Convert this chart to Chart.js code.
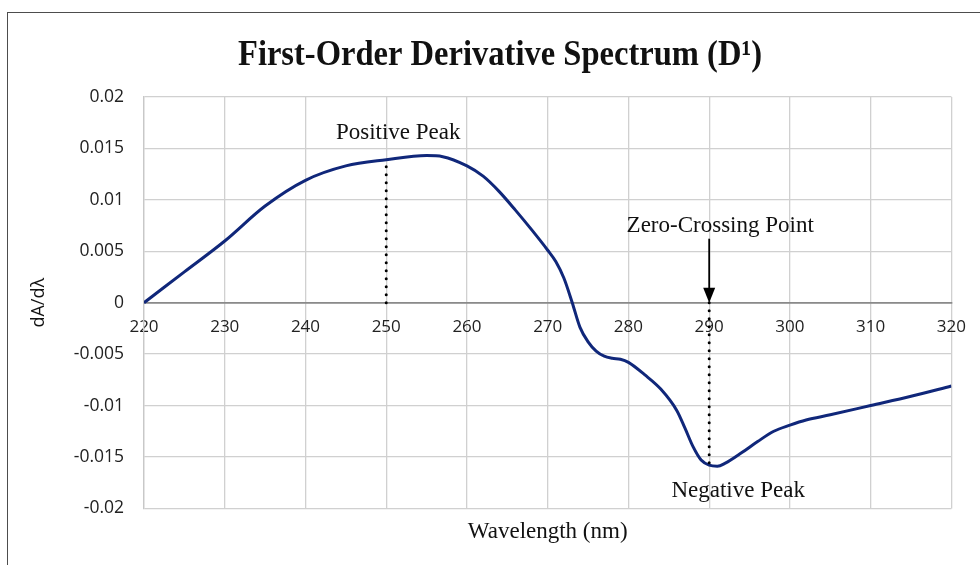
<!DOCTYPE html>
<html lang="en">
<head>
<meta charset="UTF-8">
<title>First-Order Derivative Spectrum</title>
<script src="https://cdn.jsdelivr.net/npm/chart.js"></script>
<style>
    body {
        margin: 0;
        background: #ffffff;
    }

    .frame {
        position: absolute;
        left: 7px;
        top: 12px;
        width: 1000px;
        height: 600px;
        border-left: 1.5px solid #4d4d4d;
        border-top: 1.5px solid #4d4d4d;
    }

    #spectrum {
        position: absolute;
        left: 0;
        top: 0;
    }
</style>
</head>
<body>
<div class="frame"></div>
<canvas id="spectrum" width="980" height="565"></canvas>

<script>
    // wavelength (nm) and first derivative values
    const wavelength = [220, 225, 230, 235, 240, 245, 250, 255, 257, 260, 262, 264, 266, 268, 270, 271, 272, 273, 274, 275, 276, 277, 278, 279, 280, 282, 284, 286, 287, 288, 289, 290, 291, 292, 294, 296, 298, 300, 302, 305, 310, 315, 320];
    const dAdL = [0, 0.0030, 0.0060, 0.0094, 0.0119, 0.0133, 0.0139, 0.0143, 0.0142, 0.0133, 0.0123, 0.0108, 0.0090, 0.0071, 0.0051, 0.0040, 0.0024, 0.0001, -0.0024, -0.0038, -0.0047, -0.0052, -0.0054, -0.0055, -0.0058, -0.0070, -0.0084, -0.0105, -0.0122, -0.0140, -0.0153, -0.0158, -0.0159, -0.0156, -0.0146, -0.0135, -0.0125, -0.0119, -0.0114, -0.0109, -0.0100, -0.0091, -0.0081];

    const xTicks = [220, 230, 240, 250, 260, 270, 280, 290, 300, 310, 320];
    const yTicks = [-0.02, -0.015, -0.01, -0.005, 0, 0.005, 0.01, 0.015, 0.02];

    const chartTitle = 'First-Order Derivative Spectrum (D\u00B9)';

    // annotations (data units)
    const positivePeak = { x: 250, y: 0.0139, label: 'Positive Peak' };
    const negativePeak = { x: 290, y: -0.0158, label: 'Negative Peak' };
    const zeroCrossing = { x: 290, y: 0, label: 'Zero-Crossing Point' };

    const points = wavelength.map((w, i) => ({ x: w, y: dAdL[i] }));
    const serif = '"Liberation Serif", "Times New Roman", serif';
    const sans = '"Open Sans", "Liberation Sans", sans-serif';

    const notes = {
        id: 'notes',
        afterDatasetsDraw(chart) {
            const ctx = chart.ctx;
            const xs = chart.scales.x;
            const ys = chart.scales.y;
            ctx.save();

            // title, a bit narrow like the original
            ctx.save();
            ctx.font = 'bold 35px ' + serif;
            ctx.fillStyle = '#111';
            ctx.textAlign = 'center';
            ctx.textBaseline = 'alphabetic';
            const w = ctx.measureText(chartTitle).width;
            ctx.translate(500, 65);
            ctx.scale(524 / w, 1);
            ctx.fillText(chartTitle, 0, 0);
            ctx.restore();

            // dotted drop lines
            ctx.strokeStyle = '#000';
            ctx.lineWidth = 3;
            ctx.lineCap = 'round';
            ctx.setLineDash([0, 8]);
            [positivePeak, negativePeak].forEach(p => {
                const px = xs.getPixelForValue(p.x);
                ctx.beginPath();
                ctx.moveTo(px, ys.getPixelForValue(0));
                ctx.lineTo(px, ys.getPixelForValue(p.y));
                ctx.stroke();
            });
            ctx.setLineDash([]);

            // arrow to the zero crossing
            const ax = xs.getPixelForValue(zeroCrossing.x);
            const ay = ys.getPixelForValue(zeroCrossing.y);
            ctx.lineWidth = 1.8;
            ctx.lineCap = 'butt';
            ctx.beginPath();
            ctx.moveTo(ax, ay - 64);
            ctx.lineTo(ax, ay - 12);
            ctx.stroke();
            ctx.beginPath();
            ctx.moveTo(ax, ay);
            ctx.lineTo(ax - 6, ay - 15);
            ctx.lineTo(ax + 6, ay - 15);
            ctx.closePath();
            ctx.fillStyle = '#000';
            ctx.fill();

            // labels
            ctx.font = '23px ' + serif;
            ctx.fillStyle = '#111';
            ctx.textAlign = 'center';
            ctx.textBaseline = 'middle';
            ctx.fillText(positivePeak.label, xs.getPixelForValue(positivePeak.x) + 12, ys.getPixelForValue(positivePeak.y) - 27);
            ctx.fillText(zeroCrossing.label, ax + 11, ay - 77);
            ctx.fillText(negativePeak.label, xs.getPixelForValue(negativePeak.x) + 29, ys.getPixelForValue(negativePeak.y) + 26);
            ctx.restore();
        }
    };

    new Chart(document.getElementById('spectrum'), {
        type: 'line',
        data: {
            datasets: [{
                data: points,
                borderColor: '#10277a',
                borderWidth: 3,
                pointRadius: 0,
                fill: false,
                cubicInterpolationMode: 'monotone'
            }]
        },
        options: {
            responsive: false,
            animation: false,
            layout: { padding: { left: 28, right: 28, top: 97, bottom: 19 } },
            plugins: {
                legend: { display: false },
                tooltip: { enabled: false },
                title: { display: false }
            },
            scales: {
                x: {
                    type: 'linear',
                    position: { y: 0 },
                    min: 220,
                    max: 320,
                    afterBuildTicks: s => { s.ticks = xTicks.map(v => ({ value: v })); },
                    ticks: {
                        color: '#222',
                        font: { family: sans, size: 17 },
                        padding: 14,
                        maxRotation: 0
                    },
                    grid: { color: '#d0d0d0', lineWidth: 1.3, drawTicks: false },
                    border: { color: '#8a8a8a', width: 1.8 }
                },
                xTitle: {
                    type: 'linear',
                    axis: 'x',
                    position: 'bottom',
                    ticks: { display: false },
                    grid: { display: false, drawTicks: false },
                    border: { display: false },
                    title: {
                        display: true,
                        text: 'Wavelength (nm)',
                        color: '#111',
                        font: { family: serif, size: 23 },
                        padding: { top: 10, bottom: 0 }
                    }
                },
                y: {
                    min: -0.02,
                    max: 0.02,
                    afterBuildTicks: s => { s.ticks = yTicks.map(v => ({ value: v })); },
                    afterFit: s => { s.width = 116; },
                    ticks: {
                        color: '#222',
                        font: { family: sans, size: 17.5 },
                        padding: 20,
                        callback: v => String(+v.toFixed(3))
                    },
                    grid: { color: '#d0d0d0', lineWidth: 1.3, drawTicks: false },
                    border: { color: '#c8c8c8', width: 1.3 },
                    title: {
                        display: true,
                        text: 'dA/d\u03BB',
                        color: '#111',
                        font: { family: sans, size: 18 },
                        padding: { top: 0, bottom: 0 }
                    }
                }
            }
        },
        plugins: [notes]
    });
</script>
</body>
</html>
